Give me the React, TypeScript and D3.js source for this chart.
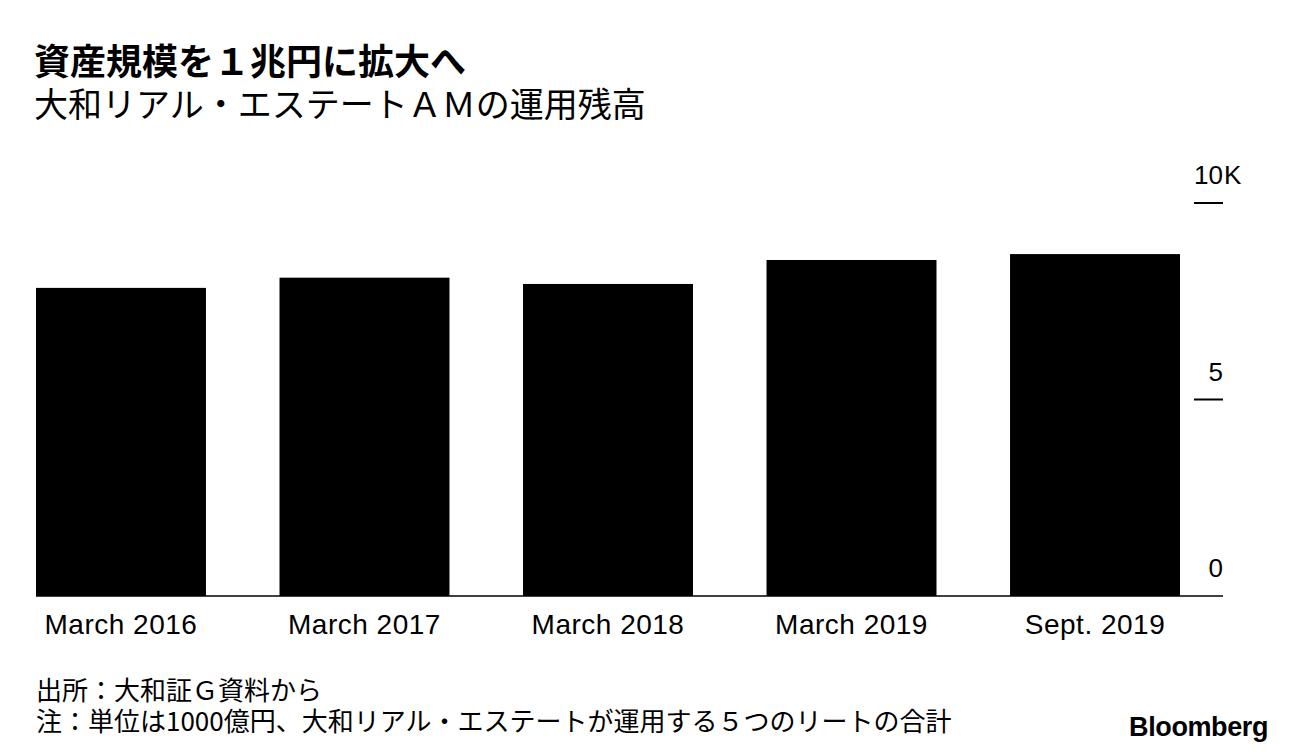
import React from "react";
import * as d3 from "d3";

const categories = ["March 2016", "March 2017", "March 2018", "March 2019", "Sept. 2019"];
const values = [7.84, 8.1, 7.94, 8.55, 8.7];
const yTicks = [0, 5, 10];
const yTickLabels = ["0", "5", "10"];

const title = "資産規模を１兆円に拡大へ";
const subtitle = "大和リアル・エステートＡＭの運用残高";
const source = "出所：大和証Ｇ資料から";
const note = "注：単位は1000億円、大和リアル・エステートが運用する５つのリートの合計";

const W = 1296;
const H = 752;

export default function App() {
  const x = d3.scaleBand<string>().domain(categories).range([36, 1180]).paddingInner(0.302).paddingOuter(0);
  const y = d3.scaleLinear().domain([0, 10]).range([596, 203]);
  const latin = "'Liberation Sans', Arial, sans-serif";
  const cjk = "'Noto Sans CJK JP', 'Noto Sans', sans-serif";
  return (
    <svg width={W} height={H} style={{ position: "absolute", left: 0, top: 0, background: "#fff" }}>
      <rect x={0} y={0} width={W} height={H} fill="#fff" />
      <text x={34} y={75} fontFamily={cjk} fontWeight={700} fontSize={36} fill="#000">{title}</text>
      <text x={34} y={117} fontFamily={cjk} fontWeight={400} fontSize={34} fill="#000">{subtitle}</text>
      {categories.map((c, i) => (
        <rect key={c} x={x(c)} y={y(values[i])} width={x.bandwidth()} height={y(0) - y(values[i])} fill="#000" />
      ))}
      <line x1={36} x2={1223} y1={y(0)} y2={y(0)} stroke="#000" strokeWidth={1.5} />
      {yTicks.map((t, i) => (
        <g key={t}>
          {t !== 0 && <line x1={1194} x2={1223} y1={y(t)} y2={y(t)} stroke="#000" strokeWidth={2} />}
          <text x={1223} y={y(t) - 19} textAnchor="end" fontFamily={latin} fontSize={26} fill="#000">{yTickLabels[i]}</text>
          {t === 10 && <text x={1224} y={y(t) - 19} fontFamily={latin} fontSize={26} fill="#000">K</text>}
        </g>
      ))}
      {categories.map((c) => (
        <text key={c} x={(x(c) as number) + x.bandwidth() / 2} y={634} textAnchor="middle" fontFamily={latin} fontSize={28} letterSpacing={0.5} fill="#000">{c}</text>
      ))}
      <text x={36} y={700} fontFamily={cjk} fontSize={26} fill="#000">{source}</text>
      <text x={36} y={731} fontFamily={cjk} fontSize={26} fill="#000">{note}</text>
      <text x={1268} y={736} textAnchor="end" fontFamily={latin} fontWeight={700} fontSize={27} letterSpacing={-0.4} fill="#000">Bloomberg</text>
    </svg>
  );
}
